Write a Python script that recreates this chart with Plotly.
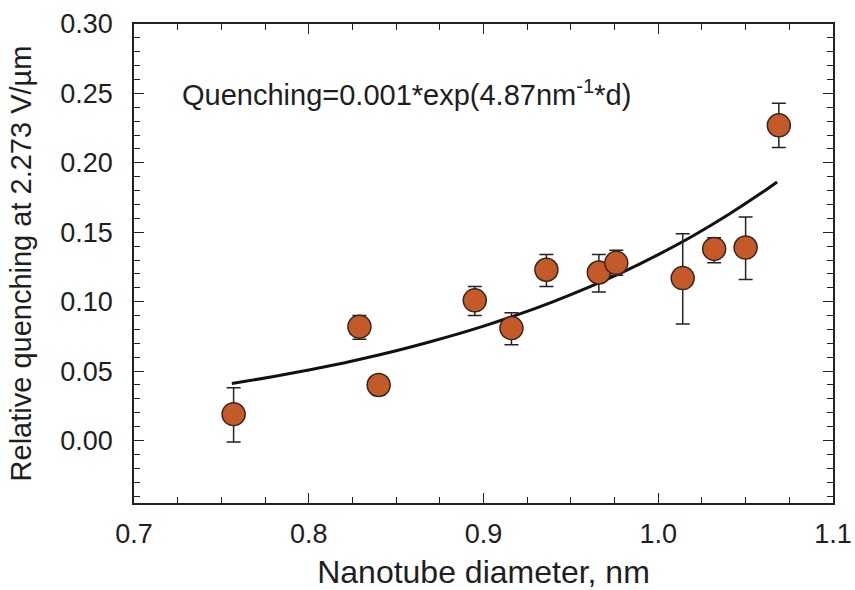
import plotly.graph_objects as go

# Measured data points
diameter = [0.757, 0.829, 0.840, 0.895, 0.916, 0.936, 0.966, 0.976, 1.014, 1.032, 1.050, 1.069]
quenching = [0.019, 0.082, 0.040, 0.101, 0.081, 0.123, 0.121, 0.128, 0.117, 0.138, 0.139, 0.227]
err_plus = [0.019, 0.008, 0.000, 0.010, 0.011, 0.011, 0.013, 0.009, 0.032, 0.008, 0.022, 0.016]
err_minus = [0.020, 0.009, 0.007, 0.011, 0.012, 0.012, 0.014, 0.009, 0.033, 0.010, 0.023, 0.016]

# Fit curve
fit_d = [0.756, 0.78, 0.80, 0.82, 0.84, 0.86, 0.88, 0.90, 0.92, 0.94, 0.96, 0.98, 1.00, 1.02, 1.04, 1.06, 1.068]
fit_q = [0.0410, 0.0461, 0.0508, 0.0559, 0.0616, 0.0679, 0.0748, 0.0824, 0.0908, 0.1001,
         0.1103, 0.1215, 0.1339, 0.1475, 0.1626, 0.1791, 0.1862]

x_ticks = [0.7, 0.8, 0.9, 1.0, 1.1]
y_ticks = [0.00, 0.05, 0.10, 0.15, 0.20, 0.25, 0.30]

FONT = "Liberation Sans, Arial, sans-serif"
INK = "#1e1e1e"

fig = go.Figure()
fig.add_trace(go.Scatter(
    x=fit_d, y=fit_q, mode="lines",
    line=dict(color="#111111", width=3, shape="spline", smoothing=0.6),
    hoverinfo="skip", showlegend=False,
))
fig.add_trace(go.Scatter(
    x=diameter, y=quenching, mode="markers",
    marker=dict(size=23, color="#C4592A", line=dict(color="#3B2418", width=1.5)),
    error_y=dict(type="data", symmetric=False, array=err_plus, arrayminus=err_minus,
                 color="#222222", thickness=1.5, width=7),
    showlegend=False,
))

fig.add_annotation(
    x=0.066, y=0.25, xref="x domain", yref="y", xanchor="left", yanchor="middle",
    text="Quenching=0.001*exp(4.87nm<sup>-1</sup>*d)", showarrow=False,
    font=dict(family=FONT, size=29, color=INK),
)

axis_common = dict(
    showgrid=False, zeroline=False, showline=True, linecolor="#222222", linewidth=1.5,
    mirror="allticks", ticks="inside", tickcolor="#222222", tickwidth=1.2,
    tickfont=dict(family=FONT, size=27, color=INK), automargin=False,
)

fig.update_xaxes(
    **axis_common, range=[0.7, 1.1], tickvals=x_ticks,
    ticktext=[f"{v:.1f}" for v in x_ticks], ticklen=10, ticklabelstandoff=6,
    minor=dict(dtick=0.025, tick0=0.7, ticks="inside", ticklen=6, tickcolor="#222222", tickwidth=1),
    title=dict(text="Nanotube diameter, nm", font=dict(family=FONT, size=32, color=INK), standoff=14),
)
fig.update_yaxes(
    **axis_common, range=[-0.045, 0.30], tickvals=y_ticks,
    ticktext=[f"{v:.2f}" for v in y_ticks], ticklen=10, ticklabelstandoff=14,
    minor=dict(dtick=0.01, tick0=0.0, ticks="inside", ticklen=6, tickcolor="#222222", tickwidth=1),
    title=dict(text="Relative quenching at 2.273 V/µm", font=dict(family=FONT, size=29, color=INK), standoff=20),
)

fig.update_layout(
    width=855, height=590,
    margin=dict(l=134, r=22, t=24, b=87),
    paper_bgcolor="white", plot_bgcolor="white",
)

fig.write_html("out.html")
